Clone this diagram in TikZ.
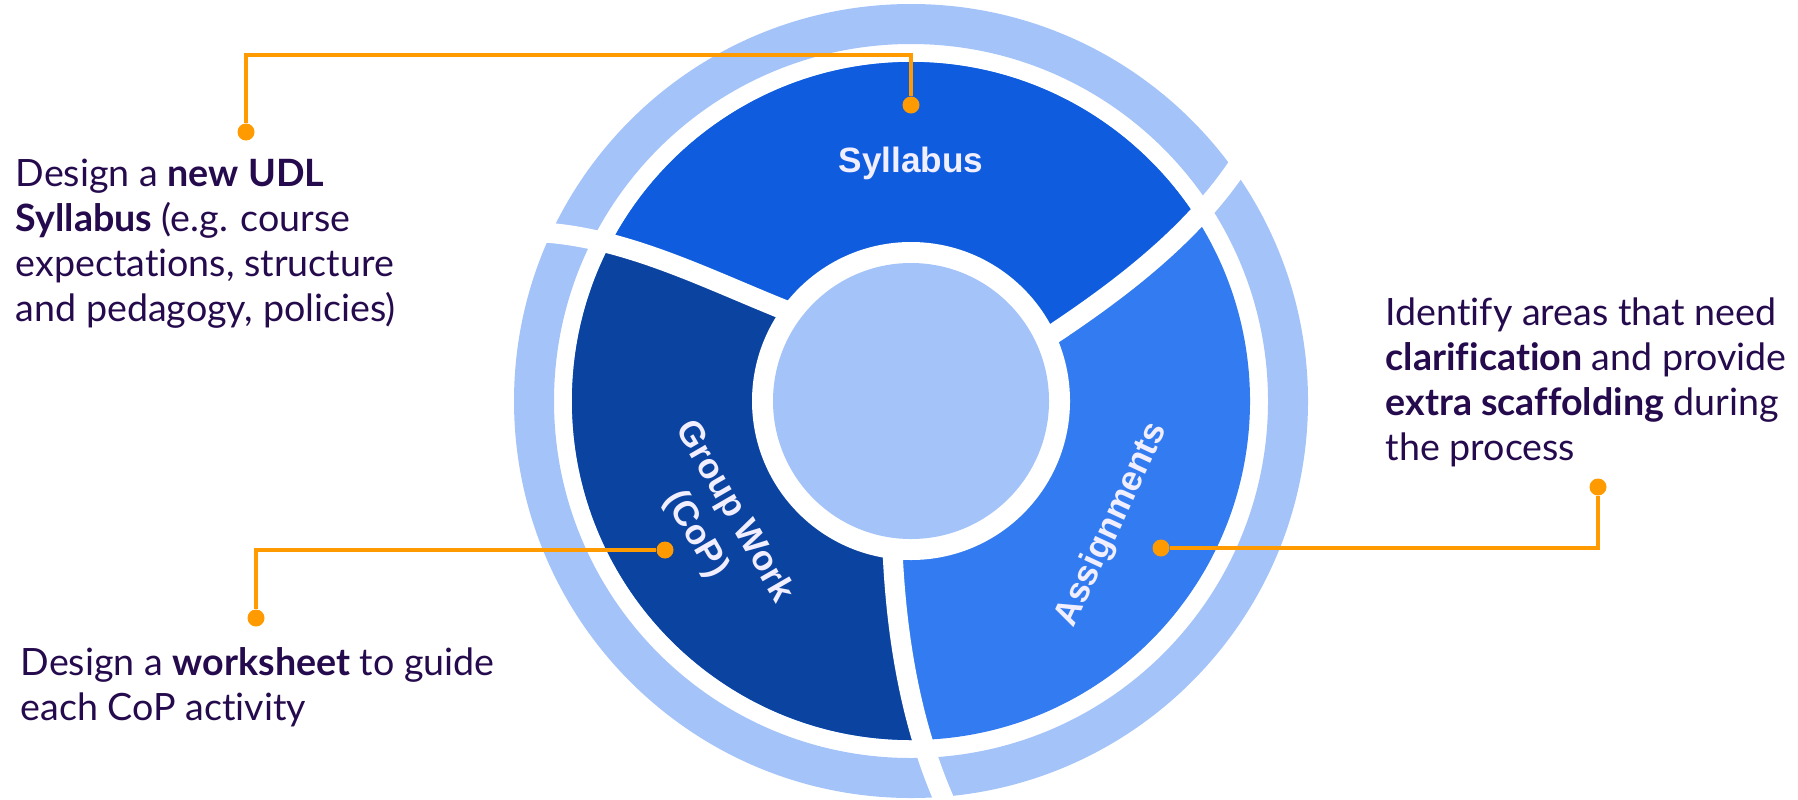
\documentclass[tikz,border=0pt]{standalone}
\usepackage{fontspec}
\setmainfont{Lato}[Ligatures=NoCommon]
\newfontfamily\labelfont{Liberation Sans}
\definecolor{ring-fill}{HTML}{A4C3F9}
\definecolor{seg-syllabus}{HTML}{0F5DDE}
\definecolor{seg-group}{HTML}{0B43A1}
\definecolor{seg-assign}{HTML}{327BF1}
\definecolor{callout}{HTML}{FF9A00}
\definecolor{ink}{HTML}{250B4D}
\definecolor{label-ink}{HTML}{F1EFFF}
\tikzset{
  seg-label/.style={
    font=\labelfont\bfseries\fontsize{10}{12.6}\selectfont,
    text=label-ink, align=center, inner sep=0pt
  },
  note/.style={
    font=\fontsize{10.7}{12.8}\selectfont,
    text=ink, align=left, anchor=north west, inner sep=0pt
  },
  pin-dot/.style={circle, fill=callout, minimum size=0.17cm, inner sep=0pt},
  pin-line/.style={draw=callout, line width=0.048cm},
  cut/.style={draw=white, line width=0.2cm}
}

\begin{document}
\begin{tikzpicture}[x=0.01cm, y=0.01cm]
  \useasboundingbox (0,0) rectangle (1798,799);

  % ---- Wheel ---------------------------------------------------------------
  \begin{scope}[shift={(911,398)}]
    \coordinate (cutL0) at (-111,  85);
    \coordinate (cutL1) at (-197, 118);
    \coordinate (cutL2) at (-283, 165);
    \coordinate (cutL3) at (-375, 169);
    \coordinate (cutR0) at ( 127,  57);
    \coordinate (cutR1) at ( 205, 108);
    \coordinate (cutR2) at ( 285, 167);
    \coordinate (cutR3) at ( 334, 246);
    \coordinate (cutB0) at ( -19,-136);
    \coordinate (cutB1) at ( -16,-230);
    \coordinate (cutB2) at (  -1,-327);
    \coordinate (cutB3) at (  39,-412);

    \fill[ring-fill, even odd rule] (0,0) circle (397) (0,0) circle (357);

    \begin{scope}
      \clip (0,0) circle (339);
      \fill[seg-assign] (0,0) circle (340);
      \fill[seg-syllabus] (cutL0) .. controls (cutL1) and (cutL2) .. (cutL3)
        -- (-450,450) -- (450,450) -- (cutR3)
        .. controls (cutR2) and (cutR1) .. (cutR0) -- (0,0) -- cycle;
      \fill[seg-group] (cutL0) .. controls (cutL1) and (cutL2) .. (cutL3)
        -- (-450,169) -- (-450,-450) -- (cutB3)
        .. controls (cutB2) and (cutB1) .. (cutB0) -- (0,0) -- cycle;
    \end{scope}
    \fill[white] (0,0) circle (159);

    % white cuts through segments and outer ring
    \draw[cut] (cutL0) .. controls (cutL1) and (cutL2) .. (cutL3);
    \draw[cut] (cutR0) .. controls (cutR1) and (cutR2) .. (cutR3);
    \draw[cut] (cutB0) .. controls (cutB1) and (cutB2) .. (cutB3);

    \fill[ring-fill] (0,0) circle (138);
  \end{scope}

  % ---- Segment labels ------------------------------------------------------
  \node[seg-label]            (syllabus) at (911, 636)   {Syllabus};
  \node[seg-label, rotate=-60] (group)    at (714.5, 276) {Group Work\\(CoP)};
  \node[seg-label, rotate=65]  (assign)   at (1112, 274)  {Assignments};

  % ---- Callouts ------------------------------------------------------------
  \node[pin-dot] (sylDot) at (911, 694) {};
  \node[pin-dot] (sylEnd) at (246, 667) {};
  \coordinate (sylBend) at (246, 744);
  \draw[pin-line] (sylEnd) -- (sylBend) -| (sylDot);

  \node[pin-dot] (grpDot) at (665, 249) {};
  \node[pin-dot] (grpEnd) at (256, 181) {};
  \draw[pin-line] (grpDot) -| (grpEnd);

  \node[pin-dot] (asgDot) at (1161, 251) {};
  \node[pin-dot] (asgEnd) at (1598, 312) {};
  \draw[pin-line] (asgDot) -| (asgEnd);

  % ---- Notes ---------------------------------------------------------------
  \node[note] (sylNote) at (15, 641)
    {Design a \textbf{new UDL}\\\textbf{Syllabus} (e.g. course\\expectations, structure\\and pedagogy, policies)};
  \node[note] (asgNote) at (1385, 502)
    {Identify areas that need\\\textbf{clarification} and provide\\\textbf{extra scaffolding} during\\the process};
  \node[note] (grpNote) at (20, 152)
    {Design a \textbf{worksheet} to guide\\each CoP activity};

\end{tikzpicture}
\end{document}
